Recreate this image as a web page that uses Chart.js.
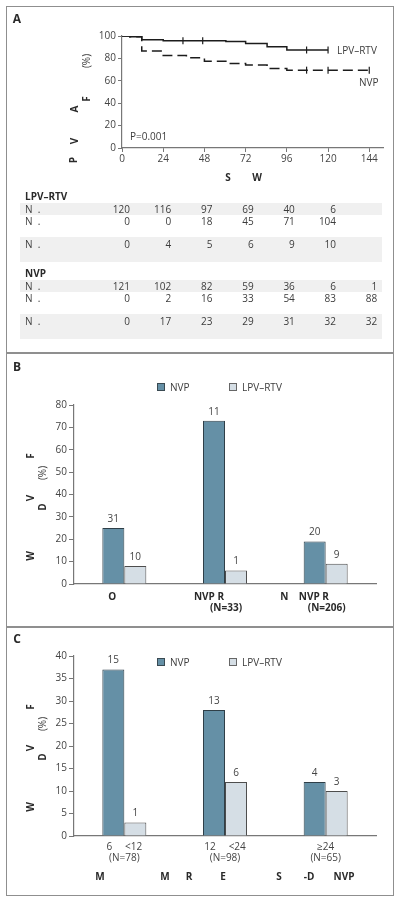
<!DOCTYPE html>
<html>
<head>
<meta charset="utf-8">
<script src="https://cdn.jsdelivr.net/npm/chart.js@4.4.1/dist/chart.umd.min.js"></script>
<style>
  body { margin: 0; background: #fff; font-family: "Open Sans", sans-serif; color: #3c3c3c; }
  #page { position: relative; width: 400px; height: 903px; overflow: hidden; }
  canvas { position: absolute; left: 0; }
  .frame { position: absolute; border: 1.5px solid #8f8f8f; box-sizing: border-box; }
  .sep { position: absolute; height: 1.5px; background: #8f8f8f; }
  .t { position: absolute; white-space: pre; font-size: 10px; line-height: 12px; }
  .b { font-weight: bold; color: #2a2a2a; }
  .band { position: absolute; background: #f0f0f0; }
  .sw { position: absolute; width: 8px; height: 8px; box-sizing: border-box; border: 1px solid #3a4a52; }
</style>
</head>
<body>
<div id="page"><div id="bands"></div>
  <div class="frame" style="left:6px;top:6px;width:388px;height:890px"></div>
  <div class="sep" style="left:6px;top:352px;width:388px"></div>
  <div class="sep" style="left:6px;top:626px;width:388px"></div>
  <canvas id="kmChart" width="400" height="190" style="top:0"></canvas>
  <canvas id="chartB" width="400" height="274" style="top:353px"></canvas>
  <canvas id="chartC" width="400" height="268" style="top:627px"></canvas>
</div>
<script>
// ---- Panel A: Kaplan-Meier curves ----
const lpvWeeks = [0, 4.5, 11.5, 24, 60.5, 72, 84.5, 96, 120];
const lpvPct = [100, 99.3, 96.7, 95.8, 95, 93.4, 90.4, 87.5, 87.5];
const nvpWeeks = [0, 4.5, 11.5, 24, 37.5, 48, 60.5, 72, 84.5, 96, 144];
const nvpPct = [100, 99.3, 86.5, 82.5, 80.5, 77.5, 75.5, 74, 71, 69.5, 69.5];
const lpvCensored = [35.5, 47, 107.5, 120];
const nvpCensored = [107.5, 120, 144];
const weekTicks = [0, 24, 48, 72, 96, 120, 144];

// numbers at risk table
const riskRowLabels = ["N  .", "N  .", "N  ."];
const lpvRisk = [
  [120, 116, 97, 69, 40, 6],
  [0, 0, 18, 45, 71, 104],
  [0, 4, 5, 6, 9, 10]
];
const nvpRisk = [
  [121, 102, 82, 59, 36, 6, 1],
  [0, 2, 16, 33, 54, 83, 88],
  [0, 17, 23, 29, 31, 32, 32]
];

// ---- Panel B ----
const groupsB = [["O"], ["NVP R", "(N=33)"], ["N    NVP R", "(N=206)"]];
const nvpB = [25, 73, 19];
const lpvB = [8, 6, 9];
const nvpCountB = [31, 11, 20];
const lpvCountB = [10, 1, 9];

// ---- Panel C ----
const groupsC = [["6     <12", "(N=78)"], ["12     <24", "(N=98)"], ["\u226524", "(N=65)"]];
const nvpC = [37, 28, 12];
const lpvC = [3, 12, 10];
const nvpCountC = [15, 13, 4];
const lpvCountC = [1, 6, 3];

const NVP_FILL = "#6590a6", NVP_EDGE = "#2f3f48";
const LPV_FILL = "#d5dee5", LPV_EDGE = "#4d4d4d";
const AXIS = "#777";
const FONT = { family: "'Open Sans', sans-serif", size: 10 };

const page = document.getElementById("page");

function txt(x, y, s, cls, align, rot) {
  const el = document.createElement("div");
  el.className = "t " + (cls || "");
  el.textContent = s;
  el.style.left = x + "px";
  el.style.top = y + "px";
  let tx = align === "left" ? "0" : align === "right" ? "-100%" : "-50%";
  el.style.transform = `translate(${tx},-50%)` + (rot ? " rotate(-90deg)" : "");
  page.appendChild(el);
  return el;
}

function survAt(weeks, pct, w) {
  let v = pct[0];
  for (let i = 0; i < weeks.length; i++) if (weeks[i] <= w) v = pct[i];
  return v;
}

function fixSize(w, h) {
  return function (scale) {
    if (w != null) scale.width = w;
    if (h != null) scale.height = h;
  };
}

// KM chart ('before' = stay flat until the next week, then drop)
const kmChart = new Chart(document.getElementById("kmChart"), {
  type: "line",
  data: {
    datasets: [
      {
        data: lpvWeeks.map((w, i) => ({ x: w, y: lpvPct[i] })),
        stepped: "before", borderColor: "#1c1c1c", borderWidth: 1.5, pointRadius: 0
      },
      {
        data: nvpWeeks.map((w, i) => ({ x: w, y: nvpPct[i] })),
        stepped: "before", borderColor: "#1c1c1c", borderWidth: 1.5, pointRadius: 0,
        borderDash: [10, 5]
      },
      {
        data: lpvCensored.map(w => ({ x: w, y: survAt(lpvWeeks, lpvPct, w) }))
          .concat(nvpCensored.map(w => ({ x: w, y: survAt(nvpWeeks, nvpPct, w) }))),
        showLine: false, pointStyle: "line", rotation: 90, pointRadius: 3.5,
        borderColor: "#1c1c1c", borderWidth: 1.2
      }
    ]
  },
  options: {
    responsive: false, animation: false, devicePixelRatio: 1,
    layout: { padding: { left: 82, right: 17, top: 36, bottom: 22 } },
    plugins: { legend: { display: false }, tooltip: { enabled: false } },
    scales: {
      x: {
        type: "linear", min: 0, max: 152,
        afterFit: fixSize(null, 20),
        ticks: { stepSize: 24, includeBounds: false, padding: 1, color: "#444", font: FONT },
        grid: { drawOnChartArea: false, tickLength: 4, color: AXIS },
        border: { color: AXIS, width: 1.2 }
      },
      y: {
        min: 0, max: 100,
        afterFit: fixSize(40, null),
        ticks: { stepSize: 20, padding: 2, color: "#444", font: FONT },
        grid: { drawOnChartArea: false, tickLength: 4, color: AXIS },
        border: { color: AXIS, width: 1.2 }
      }
    }
  }
});

// labels for panel A
txt(17, 19, "A", "b").style.fontSize = "12px";
txt(130, 136, "P=0.001", "", "left");
txt(337, 50, "LPV\u2013RTV", "", "left");
txt(359, 82, "NVP", "", "left");
txt(228, 177, "S", "b");
txt(257, 177, "W", "b");
txt(73, 160, "P", "b", null, true);
txt(74, 141, "V", "b", null, true);
txt(74, 109, "A", "b", null, true);
txt(86, 99, "F", "b", null, true);
txt(86, 61, "(%)", "", null, true);

// risk table, columns line up with the week ticks
const xs = kmChart.scales.x;
const bandBox = document.getElementById("bands");
function riskBlock(title, top, rows) {
  txt(25, top, title, "b", "left");
  [[top + 7, 12], [top + 41, 25]].forEach(b => {
    const d = document.createElement("div");
    d.className = "band";
    d.style.left = "20px"; d.style.width = "362px";
    d.style.top = b[0] + "px"; d.style.height = b[1] + "px";
    bandBox.appendChild(d);
  });
  const rowY = [top + 13, top + 25, top + 48];
  rows.forEach((row, r) => {
    txt(25, rowY[r], riskRowLabels[r], "", "left");
    row.forEach((v, c) => {
      txt(xs.getPixelForValue(weekTicks[c]) + 8, rowY[r], String(v), "", "right");
    });
  });
}
riskBlock("LPV\u2013RTV", 196, lpvRisk);
riskBlock("NVP", 273, nvpRisk);

// bar count labels
const countLabels = {
  id: "countLabels",
  afterDatasetsDraw(chart, args, opts) {
    const ctx = chart.ctx;
    ctx.save();
    ctx.font = "10px 'Open Sans', sans-serif";
    ctx.fillStyle = "#444";
    ctx.textAlign = "center";
    ctx.textBaseline = "bottom";
    chart.data.datasets.forEach((ds, di) => {
      chart.getDatasetMeta(di).data.forEach((bar, i) => {
        ctx.fillText(String(opts.counts[di][i]), bar.x, bar.y - 4);
      });
    });
    ctx.restore();
  }
};

function barOptions(yMax, yStep, topPad, bottomPad, xHeight, showX) {
  return {
    responsive: false, animation: false, devicePixelRatio: 1,
    layout: { padding: { left: 34, right: 24, top: topPad, bottom: bottomPad } },
    plugins: { legend: { display: false }, tooltip: { enabled: false } },
    datasets: { bar: { categoryPercentage: 0.437, barPercentage: 1, borderWidth: 1 } },
    scales: {
      x: {
        afterFit: fixSize(null, xHeight),
        grid: { display: false, drawTicks: false },
        border: { color: AXIS, width: 1.2 },
        ticks: { display: showX, padding: 5.5, color: "#444", font: { ...FONT, lineHeight: 1.1 }, maxRotation: 0, autoSkip: false }
      },
      y: {
        min: 0, max: yMax,
        afterFit: fixSize(40, null),
        ticks: { stepSize: yStep, padding: 2, color: "#444", font: FONT },
        grid: { drawOnChartArea: false, tickLength: 5, color: AXIS },
        border: { color: AXIS, width: 1.2 }
      }
    }
  };
}

function barData(labels, nvp, lpv) {
  return {
    labels: labels,
    datasets: [
      { label: "NVP", data: nvp, backgroundColor: NVP_FILL, borderColor: NVP_EDGE },
      { label: "LPV\u2013RTV", data: lpv, backgroundColor: LPV_FILL, borderColor: LPV_EDGE }
    ]
  };
}

const optB = barOptions(80, 10, 52, 23, 20, false);
optB.plugins.countLabels = { counts: [nvpCountB, lpvCountB] };
const chartB = new Chart(document.getElementById("chartB"), {
  type: "bar",
  data: barData(groupsB.map(g => g[0]), nvpB, lpvB),
  options: optB,
  plugins: [countLabels]
});

const optC = barOptions(40, 5, 29, 29, 30, true);
optC.plugins.countLabels = { counts: [nvpCountC, lpvCountC] };
new Chart(document.getElementById("chartC"), {
  type: "bar",
  data: barData(groupsC, nvpC, lpvC),
  options: optC,
  plugins: [countLabels]
});

// legends
function legend(y) {
  const s1 = document.createElement("div");
  s1.className = "sw"; s1.style.left = "157px"; s1.style.top = (y - 4) + "px";
  s1.style.background = NVP_FILL;
  page.appendChild(s1);
  txt(170, y, "NVP", "", "left");
  const s2 = document.createElement("div");
  s2.className = "sw"; s2.style.left = "229px"; s2.style.top = (y - 4) + "px";
  s2.style.background = LPV_FILL; s2.style.borderColor = "#666";
  page.appendChild(s2);
  txt(242, y, "LPV\u2013RTV", "", "left");
}
legend(387);
legend(662);

// panel B texts
txt(17, 367, "B", "b").style.fontSize = "12px";
const xb = chartB.scales.x;
const line1Shift = [-12, -16, -21];
groupsB.forEach((g, i) => {
  const cx = xb.getPixelForValue(i);
  txt(cx + line1Shift[i], 596, g[0], "b");
  if (g[1]) txt(cx + 1, 607, g[1], "b");
});
txt(30, 556, "W", "b", null, true);
txt(30, 498, "V", "b", null, true);
txt(30, 456, "F", "b", null, true);
txt(42, 507, "D", "b", null, true);
txt(42, 473, "(%)", "", null, true);

// panel C texts
txt(17, 639, "C", "b").style.fontSize = "12px";
txt(30, 807, "W", "b", null, true);
txt(30, 748, "V", "b", null, true);
txt(30, 707, "F", "b", null, true);
txt(42, 757, "D", "b", null, true);
txt(42, 724, "(%)", "", null, true);
[["M", 100], ["M", 165], ["R", 189], ["E", 223], ["S", 279], ["-D", 309], ["NVP", 344]].forEach(p => {
  txt(p[1], 876, p[0], "b");
});
</script>
</body>
</html>
